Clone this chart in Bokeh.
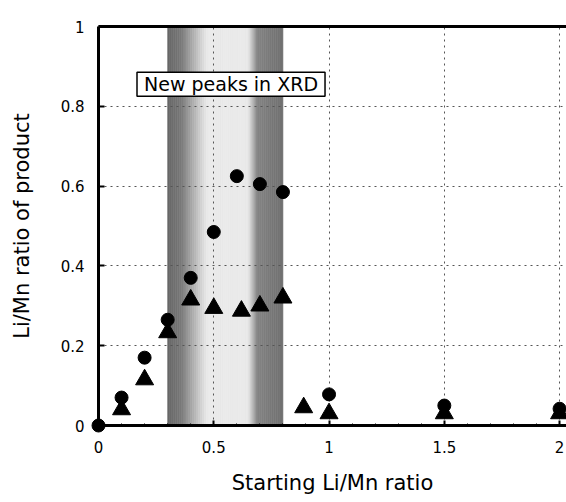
import numpy as np
from bokeh.plotting import figure
from bokeh.models import FixedTicker, NumeralTickFormatter, Label, LinearAxis, Range1d
from bokeh.embed import file_html
from bokeh.resources import INLINE

# ---- data ----
x_circle = [0.0, 0.1, 0.2, 0.3, 0.4, 0.5, 0.6, 0.7, 0.8, 1.0, 1.5, 2.0]
y_circle = [0.0, 0.07, 0.17, 0.265, 0.37, 0.485, 0.625, 0.605, 0.585, 0.078, 0.05, 0.042]
x_triangle = [0.1, 0.2, 0.3, 0.4, 0.5, 0.62, 0.7, 0.8, 0.89, 1.0, 1.5, 2.0]
y_triangle = [0.04, 0.115, 0.233, 0.315, 0.294, 0.287, 0.30, 0.32, 0.045, 0.03, 0.03, 0.03]
x_ticks = [0, 0.5, 1, 1.5, 2]
y_ticks = [0, 0.2, 0.4, 0.6, 0.8, 1]
band_range = [0.3, 0.8]
band_label = "New peaks in XRD"
x_title = "Starting Li/Mn ratio"
y_title = "Li/Mn ratio of product"

# ---- styles ----
FONT = "DejaVu Sans"
band_t = [0.0, 0.12, 0.34, 0.70, 0.78, 1.0]
band_lum = [0.40, 0.48, 0.92, 0.92, 0.52, 0.44]
n_strips = 60

p = figure(width=566, height=502,
           x_range=Range1d(0, 2.03), y_range=Range1d(y_ticks[0], y_ticks[-1]),
           output_backend="svg", toolbar_location=None,
           min_border_left=98, min_border_right=0,
           min_border_top=26, min_border_bottom=77)
p.outline_line_color = None
p.background_fill_color = "white"
p.border_fill_color = "white"

# shaded band (gradient)
edges = np.linspace(band_range[0], band_range[1], n_strips + 1)
tc = (0.5 * (edges[:-1] + edges[1:]) - band_range[0]) / (band_range[1] - band_range[0])
lum = np.interp(tc, band_t, band_lum)
cols = ["#%02x%02x%02x" % (int(v * 255), int(v * 255), int(v * 255)) for v in lum]
p.quad(left=edges[:-1], right=edges[1:], bottom=y_ticks[0], top=y_ticks[-1],
       fill_color=cols, line_color=cols, line_width=0.6, level="image")

# axes
xt = FixedTicker(ticks=x_ticks, minor_ticks=list(np.round(np.arange(0, 2.01, 0.1), 2)))
yt = FixedTicker(ticks=y_ticks, minor_ticks=[])
for ax, tk in ((p.xaxis, xt), (p.yaxis, yt)):
    ax.ticker = tk
    ax.formatter = NumeralTickFormatter(format="0.[0]")
    ax.axis_line_width = 3
    ax.axis_line_color = "black"
    ax.major_tick_out = 0
    ax.major_tick_line_width = 2
    ax.major_tick_line_color = "black"
    ax.minor_tick_out = 0
    ax.minor_tick_line_color = "black"
    ax.major_label_text_font = FONT
    ax.major_label_text_font_size = "15px"
    ax.major_label_text_color = "black"
    ax.axis_label_text_font = FONT
    ax.axis_label_text_font_size = "21px"
    ax.axis_label_text_font_style = "normal"
    ax.axis_label_text_color = "black"
p.xaxis.major_tick_in = 5
p.xaxis.minor_tick_in = 2
p.xaxis.major_label_standoff = 15
p.xaxis.axis_label_standoff = 15
p.yaxis.major_tick_in = 6
p.yaxis.minor_tick_in = 0
p.yaxis.major_label_standoff = 14
p.yaxis.axis_label_standoff = 24
p.xaxis.axis_label = x_title
p.yaxis.axis_label = y_title

top = LinearAxis(ticker=FixedTicker(ticks=[]), major_label_text_font_size="0px",
                 major_tick_in=0, major_tick_out=0, minor_tick_in=0, minor_tick_out=0,
                 axis_line_width=3, axis_line_color="black")
p.add_layout(top, "above")

# grid
for g, tk in ((p.xgrid, xt), (p.ygrid, yt)):
    g.ticker = tk
    g.grid_line_color = "#555555"
    g.grid_line_dash = "2 4"
    g.grid_line_width = 1
    g.grid_line_alpha = 1

# markers
p.scatter(x_triangle, y_triangle, marker="triangle", size=18,
          fill_color="black", line_color="black")
p.scatter(x_circle, y_circle, marker="circle", size=13,
          fill_color="black", line_color="black", level="overlay")

# label box
p.add_layout(Label(x=0.167, y=0.855, x_units="data", y_units="data",
                   text=band_label, text_font=FONT, text_font_size="19px",
                   text_color="black", text_baseline="middle", text_align="left",
                   background_fill_color="white", border_line_color="black",
                   border_line_width=1.5,
                   padding=dict(left=7, right=7, top=1, bottom=1)))

open("out.html", "w").write(file_html(p, INLINE))
